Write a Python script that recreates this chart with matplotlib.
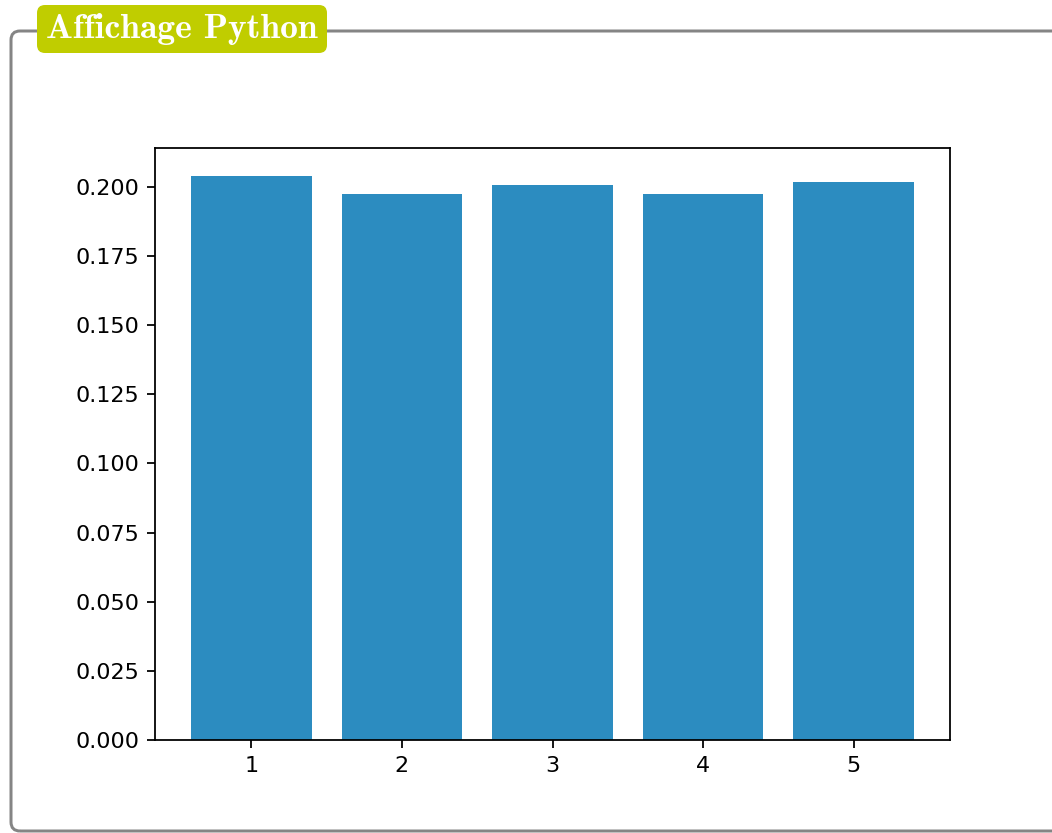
"""
Bar chart of relative frequencies, framed like the LaTeX "Affichage Python" box.
"""

from matplotlib import pyplot
from matplotlib.patches import FancyBboxPatch

faces = [1, 2, 3, 4, 5]
freqs = [0.2039, 0.1974, 0.2008, 0.1974, 0.2017]

dpi = 160
W, H = 1052, 833

fig = pyplot.figure(figsize=(W / dpi, H / dpi), dpi=dpi)

# outer gray frame (pixel coordinates, origin bottom-left)
frame = FancyBboxPatch((11, 2), 1070, 800,
                       boxstyle='round,pad=0,rounding_size=9',
                       facecolor='none', edgecolor='#858585',
                       linewidth=3 * 72 / dpi, transform=None)
fig.add_artist(frame)

# title tab
tab = FancyBboxPatch((37, 780), 290, 48,
                     boxstyle='round,pad=0,rounding_size=8',
                     facecolor='#c0cd00', edgecolor='none', transform=None)
fig.add_artist(tab)
fig.text(182 / W, 1 - 29 / H, 'Affichage Python', color='white',
         fontfamily='cmb10', fontsize=16, ha='center', va='center')

ax = fig.add_axes([155 / W, 1 - 740 / H, 795 / W, 592 / H])
ax.bar(faces, freqs, color='#2c8cc0')
ax.set_xticks(faces)

fig.savefig('out.png', dpi=dpi)
